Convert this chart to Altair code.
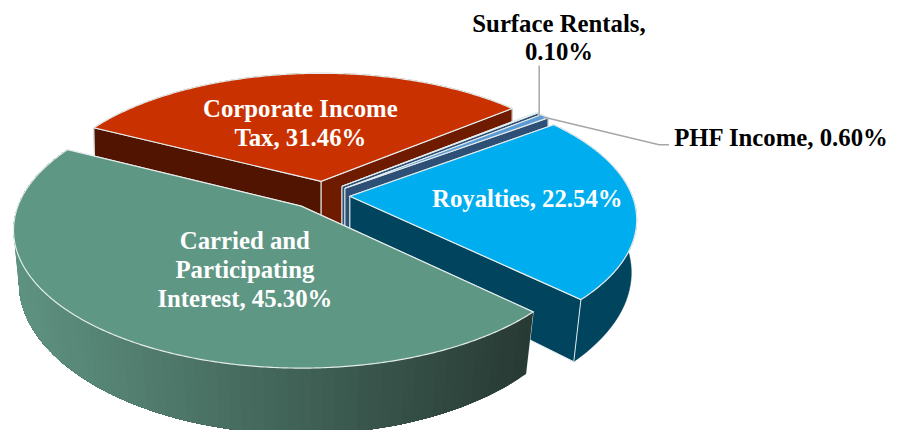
import math
import altair as alt

categories = ["Corporate Income Tax", "Surface Rentals", "PHF Income", "Royalties", "Carried and Participating Interest"]
shares = [31.46, 0.10, 0.60, 22.54, 45.30]

START = 297.1
P = 0.174
THICK = 55
OFFX = 3
OFFY = 8

STYLE = {
    "Corporate Income Tax": dict(ax=319, ay=181, R=278, V=128, top="#C93200", f1="#501400", f2="#6E1B00", rim="#6E1B00"),
    "Surface Rentals": dict(ax=340, ay=186, R=284, V=130, top="#A9C6E4", f1="#2F5076", f2="#2F5076", rim="#2F5076"),
    "PHF Income": dict(ax=343, ay=188, R=284, V=130, top="#5B9BD5", f1="#2F5076", f2="#2F5076", rim="#2F5076"),
    "Royalties": dict(ax=348, ay=196, R=285, V=132, top="#00AEEF", f1="#00445E", f2="#00445E", rim="#00445E"),
    "Carried and Participating Interest": dict(ax=299, ay=206, R=286, V=135, top="#5F9785", f1="#3A5A50", f2="#3A5A50", rim=None),
}
EDGE = "#E4ECEC"
RIM_L = (94, 146, 128)
RIM_R = (40, 58, 52)


def pt(st, deg, r=1.0, low=False):
    a = math.radians(deg)
    c, sn = math.cos(a) * r, math.sin(a) * r
    s = 1 / (1 + P * c)
    X = st["R"] * sn * s
    Y = -st["V"] * c * s
    if low:
        return [st["ax"] + (0.985 + 0.023 * c) * X - OFFX, st["ay"] + Y + THICK * s - OFFY]
    return [st["ax"] + X - OFFX, st["ay"] + Y - OFFY]


def feature(ring, fill, stroke, sw):
    return {
        "type": "Feature",
        "geometry": {"type": "Polygon", "coordinates": [ring + [ring[0]]]},
        "properties": {"fill": fill, "stroke": stroke, "sw": sw},
    }


def mix(x):
    t = max(0, min(1, (x - 15 + OFFX) / 515))
    return "#%02x%02x%02x" % tuple(round(a + (b - a) * t) for a, b in zip(RIM_L, RIM_R))


features = []
bounds = []
ang = START
for cat, val in zip(categories, shares):
    bounds.append((cat, ang, ang + val * 3.6))
    ang += val * 3.6

for cat, a0, a1 in bounds:
    st = STYLE[cat]
    apex = [st["ax"] - OFFX, st["ay"] - OFFY]
    low_apex = pt(st, 0, 0, True)
    n = max(2, int((a1 - a0) / 2))
    angs = [a0 + (a1 - a0) * i / n for i in range(n + 1)]
    faces = [
        feature([apex, pt(st, a0), pt(st, a0, 1, True), low_apex], st["f1"], EDGE, 1),
        feature([apex, pt(st, a1), pt(st, a1, 1, True), low_apex], st["f2"], EDGE, 1),
    ]
    if st["rim"]:
        ring = [pt(st, a) for a in angs] + [pt(st, a, 1, True) for a in reversed(angs)]
        features.append(feature(ring, st["rim"], st["rim"], 0.5))
        features.extend(faces)
    else:
        features.extend(faces)
        for i in range(n):
            tail = angs[i:]
            col = mix(pt(st, (angs[i] + angs[i + 1]) / 2)[0])
            ring = [pt(st, a) for a in tail] + [pt(st, a, 1, True) for a in reversed(tail)]
            features.append(feature(ring, col, col, 0))
        end = [pt(st, a1), pt(st, a1, 1, True)]
        features.append({"type": "Feature", "geometry": {"type": "LineString", "coordinates": end},
                         "properties": {"fill": "none", "stroke": EDGE, "sw": 1.2}})
    m = max(2, int((a1 - a0) * 2))
    ring = [apex] + [pt(st, a0 + (a1 - a0) * i / m) for i in range(m + 1)]
    features.append(feature(ring, st["top"], EDGE, 1.2))

shapes = alt.Chart(alt.Data(values=features)).mark_geoshape().encode(
    fill=alt.Fill("properties.fill:N", scale=None),
    stroke=alt.Stroke("properties.stroke:N", scale=None),
    strokeWidth=alt.StrokeWidth("properties.sw:Q", scale=None),
).project(type="identity", scale=1, translate=[0, 0])

LEADER = [
    [[539, 64], [539, 115]],
    [[543, 116], [660, 144], [670, 144]],
]
leader_features = [
    {"type": "Feature", "geometry": {"type": "LineString",
     "coordinates": [[x - OFFX, y - OFFY] for x, y in line]}, "properties": {}}
    for line in LEADER
]
leaders = alt.Chart(alt.Data(values=leader_features)).mark_geoshape(
    filled=False, stroke="#A6A6A6", strokeWidth=1.5
).project(type="identity", scale=1, translate=[0, 0])

pct = {c: f"{v:.2f}%" for c, v in zip(categories, shares)}
text_rows = []
LABELS = [
    (["Corporate Income", "Tax, " + pct["Corporate Income Tax"]], 298, 108, 29, "white"),
    (["Royalties, " + pct["Royalties"]], 527, 199, 29, "white"),
    (["Carried and", "Participating", "Interest, " + pct["Carried and Participating Interest"]], 242, 241, 29.5, "white"),
    (["Surface Rentals,", pct["Surface Rentals"]], 559, 22, 29, "black"),
    (["PHF Income, " + pct["PHF Income"]], 783, 137, 29, "black"),
]
for lines, x, y, dy, col in LABELS:
    for i, line in enumerate(lines):
        text_rows.append({"t": line, "px": x - OFFX, "py": y + i * dy - OFFY, "c": col})

texts = alt.Chart(alt.Data(values=text_rows)).mark_text(
    font="Liberation Serif", fontWeight="bold", fontSize=25, align="center", baseline="middle"
).encode(
    x=alt.X("px:Q", scale=None),
    y=alt.Y("py:Q", scale=None),
    text="t:N",
    color=alt.Color("c:N", scale=None),
)

chart = alt.layer(shapes, leaders, texts).properties(
    width=890, height=424, padding=0, autosize=alt.AutoSizeParams(type="none")
).configure_view(stroke=None)

chart.save("out.html", embed_options={"renderer": "svg", "actions": False})
